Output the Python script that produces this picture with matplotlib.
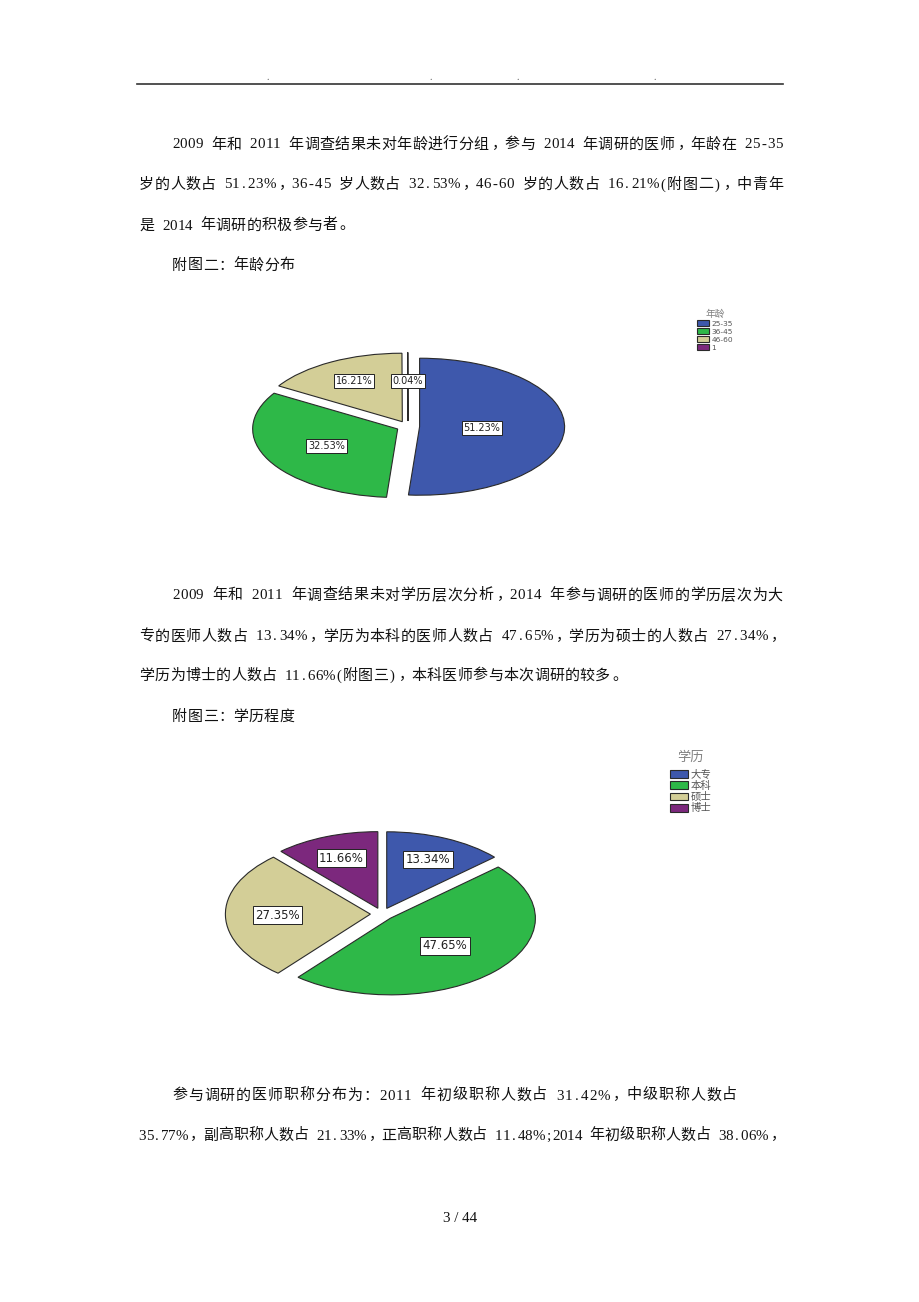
import matplotlib
matplotlib.use("Agg")
import matplotlib.pyplot as plt
from matplotlib.lines import Line2D
import numpy as np

plt.rcParams['font.family'] = ['Liberation Serif', 'Noto Sans CJK SC', 'DejaVu Sans']

W, H = 920, 1302

# ---------------- data ----------------
age_labels = ['25-35', '36-45', '46-60', '1']
age_values = [51.23, 32.53, 16.21, 0.04]
age_title = '年龄'

edu_labels = ['大专', '本科', '硕士', '博士']
edu_values = [13.34, 47.65, 27.35, 11.66]
edu_title = '学历'

colors = ['#3E58AC', '#2EB848', '#D3CE97', '#7C287D']

para1 = [
    "2009 年和 2011 年调查结果未对年龄进行分组，参与 2014 年调研的医师，年龄在 25-35",
    "岁的人数占 51.23%，36-45 岁人数占 32.53%，46-60 岁的人数占 16.21%(附图二)，中青年",
    "是 2014 年调研的积极参与者。",
]
cap1 = "附图二：年龄分布"
para2 = [
    "2009 年和 2011 年调查结果未对学历层次分析，2014 年参与调研的医师的学历层次为大",
    "专的医师人数占 13.34%，学历为本科的医师人数占 47.65%，学历为硕士的人数占 27.34%，",
    "学历为博士的人数占 11.66%(附图三)，本科医师参与本次调研的较多。",
]
cap2 = "附图三：学历程度"
para3 = [
    "参与调研的医师职称分布为：2011 年初级职称人数占 31.42%，中级职称人数占",
    "35.77%，副高职称人数占 21.33%，正高职称人数占 11.48%;2014 年初级职称人数占 38.06%，",
]
page_label = "3 / 44"

fig = plt.figure(figsize=(W / 100, H / 100), dpi=100)
fig.patch.set_facecolor('white')


def fx(x):
    return x / W


def fy(y):
    return 1 - y / H


# ---------------- header ----------------
fig.add_artist(Line2D([fx(137), fx(783)], [fy(84), fy(84)], color='#333333', lw=1.2))
for xd in [268, 431, 518, 655]:
    fig.text(fx(xd), fy(77), '.', fontsize=7, color='#555555', ha='center', va='center')

# ---------------- body text (monospaced CJK-style layout) ----------------
FS = 10.8
EM = 15.3
TXT = '#111111'


def is_wide(c):
    return ord(c) >= 0x2E80


def advance(c):
    if is_wide(c):
        return EM
    if c == '%':
        return 0.8 * EM
    return EM / 2


def layout_line(s, x0, yc, right=None):
    adv = [advance(c) for c in s]
    total = sum(adv)
    gap = 0.0
    if right is not None and len(s) > 1:
        gap = (right - x0 - total) / (len(s) - 1)
    x = x0
    yb = fy(yc + 5.5)
    for c, a in zip(s, adv):
        if c != ' ':
            if c in '，。、；':
                fig.text(fx(x + 0.12 * EM), yb, c, fontsize=FS, color=TXT,
                         ha='left', va='baseline')
            else:
                fig.text(fx(x + a / 2), yb, c, fontsize=FS, color=TXT,
                         ha='center', va='baseline')
        x += a + gap


RIGHT = 783
layout_line(para1[0], 172, 143, RIGHT)
layout_line(para1[1], 139, 183, RIGHT)
layout_line(para1[2], 139, 224)
layout_line(cap1, 172, 264)
layout_line(para2[0], 172, 594, RIGHT)
layout_line(para2[1], 139, 635, RIGHT)
layout_line(para2[2], 139, 674)
layout_line(cap2, 172, 715)
layout_line(para3[0], 172, 1094, 737)
layout_line(para3[1], 138, 1134, RIGHT)
fig.text(fx(460), fy(1217 + 5.5), page_label, fontsize=FS, color=TXT,
         ha='center', va='baseline')


# ---------------- pies ----------------
def make_pie(cx, cy, rx, ry, values, labels, title, explode, label_r, lab_fs,
             leg_xy, leg_fs, title_fs, hl, hh, lsp, title_gap):
    lim = 1.2
    wpx, hpx = 2 * lim * rx, 2 * lim * ry
    ax = fig.add_axes([fx(cx - wpx / 2), fy(cy + hpx / 2), wpx / W, hpx / H])
    wedges, _ = ax.pie(values, colors=colors, startangle=90, counterclock=False,
                       explode=[explode] * len(values),
                       wedgeprops=dict(edgecolor='#2a2a2a', linewidth=0.8))
    ax.set_aspect('auto')
    ax.set_xlim(-lim, lim)
    ax.set_ylim(-lim, lim)
    ax.axis('off')
    for w, v, r in zip(wedges, values, label_r):
        th = np.deg2rad((w.theta1 + w.theta2) / 2)
        rr = explode + r
        ax.text(rr * np.cos(th), rr * np.sin(th), f"{v:.2f}%", family='DejaVu Sans',
                fontsize=lab_fs, ha='center', va='center', color='#222222',
                bbox=dict(boxstyle='square,pad=0.2', fc='white', ec='#222222', lw=0.7),
                zorder=5)
    leg = ax.legend(wedges, labels, title=title, loc='upper left',
                    bbox_to_anchor=(fx(leg_xy[0]), fy(leg_xy[1])),
                    bbox_transform=fig.transFigure, frameon=False,
                    title_fontsize=title_fs,
                    handlelength=hl, handleheight=hh, labelspacing=lsp,
                    handletextpad=0.3, borderpad=0, borderaxespad=0,
                    prop={'family': ['DejaVu Sans', 'Noto Sans CJK SC'], 'size': leg_fs})
    for t in leg.get_texts():
        t.set_color('#555555')
    tt = leg.get_title()
    tt.set_color('#808080')
    tt.set_family(['Noto Sans CJK SC'])
    leg._legend_box.sep = title_gap
    return ax


make_pie(408, 426.5, 145, 68.5, age_values, age_labels, age_title,
         explode=0.08, label_r=[0.43, 0.55, 0.68, 0.58], lab_fs=7,
         leg_xy=(697, 309), leg_fs=5.4, title_fs=7, hl=1.6, hh=0.8, lsp=0.2,
         title_gap=1)

make_pie(382, 914, 145, 76.6, edu_values, edu_labels, edu_title,
         explode=0.08, label_r=[0.70, 0.52, 0.64, 0.70], lab_fs=8.5,
         leg_xy=(670, 751), leg_fs=7.5, title_fs=9.5, hl=1.7, hh=0.75, lsp=0.12,
         title_gap=4)

fig.savefig('out.png', dpi=100, facecolor='white')
